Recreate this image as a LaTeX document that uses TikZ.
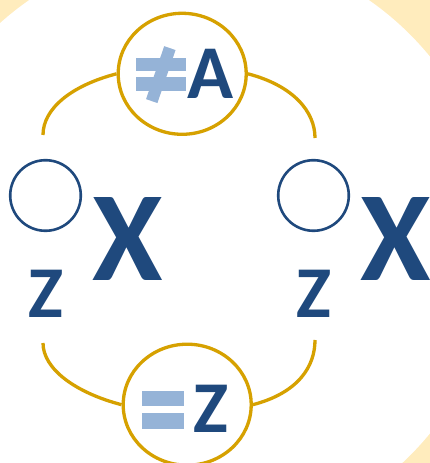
\documentclass[tikz,border=0pt]{standalone}
\usepackage{fontspec}
\setmainfont{Carlito}
\usetikzlibrary{shapes.geometric}
\definecolor{navy}{HTML}{1F497D}
\definecolor{paleblue}{HTML}{95B3D7}
\definecolor{gold}{RGB}{214,161,0}
\definecolor{cream}{RGB}{255,236,189}
\tikzset{ring/.style={ellipse,draw=gold,line width=3.3pt,fill=white,minimum width=128pt,
           minimum height=121pt,inner sep=0pt},
         arcline/.style={draw=gold,line width=3.3pt},
         slot/.style={circle,draw=navy,line width=2.6pt,minimum size=70.6pt,inner sep=0pt},
         glyph/.style={text=navy,inner sep=0pt,font=\bfseries\fontsize{#1}{#1}\selectfont},
         bar/.style={fill=paleblue}}

\begin{document}
\begin{tikzpicture}[x=1pt,y=1pt]
  \useasboundingbox (0,0) rectangle (430,463);
  \clip (0,0) rectangle (430,463);
  \fill[cream] (0,0) rectangle (430,463);
  \fill[white] (199,218) circle[radius=298];
  \node[ring] (neq) at (182.2,389.2) {};
  \node[ring] (eq) at (187.2,58.3) {};
  \coordinate (tl) at (43,328); \coordinate (tr) at (315,325);
  \coordinate (bl) at (43,120); \coordinate (br) at (315,123);
  \draw[arcline] (tl) .. controls +(0,26) and +(-46,-12) .. (neq.west);
  \draw[arcline] (neq.east) .. controls +(46,-12) and +(0,26) .. (tr);
  \draw[arcline] (bl) .. controls +(0,-26) and +(-46,12) .. (eq.west);
  \draw[arcline] (eq.east) .. controls +(46,12) and +(0,-26) .. (br);
  \node[slot] (lslot) at (45.5,267.5) {};
  \node[slot] (rslot) at (313.5,267.5) {};
  \node[glyph=128] (lx) at (128,224) {X};
  \node[glyph=128] (rx) at (395.5,224) {X};
  \node[glyph=73] (lz) at (45.5,169) {Z};
  \node[glyph=73] (rz) at (313.5,169) {Z};
  \fill[bar] (136,392) rectangle (186,405.3);
  \fill[bar] (136,372.3) rectangle (186,385.7);
  \fill[bar,rotate around={-18.9:(160.8,388.4)}] (154.8,360.4) rectangle (166.8,416.4);
  \node[glyph=76] (a) at (210.5,389) {A};
  \fill[bar] (141.7,57) rectangle (184,72.3);
  \fill[bar] (141.7,34.3) rectangle (184,49.7);
  \node[glyph=73] (z) at (210.5,54) {Z};
\end{tikzpicture}
\end{document}
